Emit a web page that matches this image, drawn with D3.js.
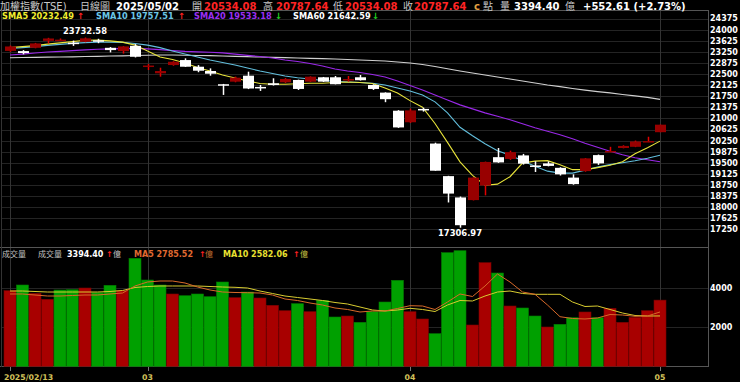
<!DOCTYPE html>
<html><head><meta charset="utf-8">
<script src="https://cdn.jsdelivr.net/npm/d3@7"></script>
<style>html,body{margin:0;padding:0;background:#000;overflow:hidden}</style>
</head><body>
<svg id="c" width="740" height="382"></svg>
<script>
const dates = ["2025/02/13","2025/02/14","2025/02/17","2025/02/18","2025/02/19","2025/02/20","2025/02/21","2025/02/24","2025/02/25","2025/02/26","2025/02/27","2025/03/03","2025/03/04","2025/03/05","2025/03/06","2025/03/07","2025/03/10","2025/03/11","2025/03/12","2025/03/13","2025/03/14","2025/03/17","2025/03/18","2025/03/19","2025/03/20","2025/03/21","2025/03/24","2025/03/25","2025/03/26","2025/03/27","2025/03/28","2025/03/31","2025/04/01","2025/04/02","2025/04/07","2025/04/08","2025/04/09","2025/04/10","2025/04/11","2025/04/14","2025/04/15","2025/04/16","2025/04/17","2025/04/18","2025/04/21","2025/04/22","2025/04/23","2025/04/24","2025/04/25","2025/04/28","2025/04/29","2025/04/30","2025/05/02"];
const open  = [23280,23274,23385,23621,23645,23560,23590,23640,23385,23274,23453,22753,22524,22803,22971,22746,22601,22154,22241,22443,22063,22187,22221,22298,22241,22389,22389,22300,22389,22130,21871,21260,20870,21320,20150,19050,18330,18240,18730,19690,19630,19750,19410,19480,19330,19000,19220,19760,19880,20000,20040,20215,20534.08];
const high  = [23460,23308,23550,23722,23700,23630,23732.58,23690,23410,23440,23510,22837,22712,22930,23029,22800,22690,22165,22410,22578,22130,22355,22360,22310,22420,22400,22433,22433,22467,22150,21880,21280,21330,21360,20180,19060,18360,19010,19540,20000,19910,19800,19550,19550,19350,19110,19660,19780,20040,20090,20250,20380,20787.64];
const low   = [23250,23165,23370,23533,23620,23450,23570,23540,23230,23190,23060,22635,22409,22780,22740,22560,22443,21793,22221,21990,21928,22110,22200,21960,22230,22230,22150,22241,22280,21961,21548,20680,20850,21230,19232.35,18160,17306.97,18230,18400,19500,19600,19440,19190,19380,19070,18760,19200,19430,19860,19990,20030,20200,20534.08];
const close = [23430,23207,23533,23700,23660,23520,23705,23610,23308,23432,23082,22786,22600,22914,22746,22611,22510,22106,22376,22010,22030,22130,22332,21995,22409,22241,22154,22330,22290,21995,21649,20695,21270,21298.22,19232.35,18459.95,17391.76,19000.02,19528.77,19513,19860,19470,19370,19395,19110,18780,19650,19480,19900,20070,20220,20235.03,20787.64];
const volume = [3877,4169,3743,3436,3913,3928,4015,3774,4154,3877,5538,4425,4169,3708,3620,3708,3569,4323,3518,3810,3502,3128,2851,3210,2800,3384,2528,2579,2256,2800,3297,4410,2800,2426,1672,5826,5928,2118,5313,4784,3092,2990,2579,2015,2154,2492,2785,2492,2974,2256,2513,2851,3394.40];
const sma5  = [23392,23426,23460,23510,23550,23594,23638,23645,23618,23577,23476,23274,23072,22988,22870,22719,22601,22467,22366,22265,22180,22153,22153,22170,22187,22187,22214,22231,22214,22180,22029,21861,21600,21380,20829,20191,19530,19076,18740,18779,19030,19490,19555,19572,19437,19269,19269,19336,19420,19538,19808,20009,20232.49];
const sma10 = [23359,23392,23426,23466,23500,23533,23560,23577,23577,23567,23533,23476,23392,23274,23173,23072,22971,22887,22803,22702,22601,22517,22433,22372,22332,22281,22254,22231,22214,22187,22130,22029,21928,21793,21558,21187,20700,20413,20144,19908,19757,19572,19387,19218,19151,19151,19252,19353,19437,19504,19572,19656,19757.51];
const sma20 = [23140,23173,23207,23241,23264,23291,23315,23335,23348,23358,23365,23348,23325,23291,23264,23247,23234,23214,23173,23130,23089,23039,22971,22921,22854,22769,22668,22601,22551,22483,22399,22265,22113,21962,21793,21625,21457,21322,21187,21070,20952,20817,20682,20565,20447,20312,20161,20026,19892,19774,19673,19605,19533.18];
const sma60 = [23049,23056,23062,23069,23072,23079,23089,23096,23106,23113,23123,23133,23140,23140,23133,23126,23120,23106,23096,23086,23072,23062,23052,23039,23029,23019,23005,22988,22971,22955,22938,22904,22870,22820,22752,22675,22601,22534,22466,22399,22332,22264,22197,22130,22073,22012,21955,21904,21861,21810,21760,21709,21642.59];
const volMa5  = [3708,3708,3656,3605,3605,3631,3656,3656,3708,3759,4118,4323,4374,4374,4272,4066,3913,3810,3785,3774,3759,3656,3451,3374,3246,3143,2990,2913,2785,2836,2836,2964,3108,3092,2913,3297,3708,3579,4118,4733,4323,3810,3692,3143,2543,2451,2426,2477,2656,2631,2564,2579,2785.52];
const volMa10 = [3861,3861,3836,3810,3810,3810,3810,3810,3836,3887,4041,4092,4118,4118,4118,4118,4092,4066,4051,4015,3861,3733,3605,3528,3451,3374,3272,3195,3041,2887,2836,2887,2974,2913,2810,3143,3374,3349,3605,3810,3861,3733,3692,3692,3692,3297,3067,3092,2913,2733,2605,2579,2582.06];
const priceTicks = [17250,17625,18000,18375,18750,19125,19500,19875,20250,20625,21000,21375,21750,22125,22500,22875,23250,23625,24000,24375];
const volTicks = [2000,4000];
const monthTickDates  = ["2025/02/13","2025/03/03","2025/04/01","2025/05/02"];
const monthTickLabels = ["2025/02/13","03","04","05"];
const highLabelDate = "2025/02/21";
const lowLabelDate = "2025/04/09";

const FONT = "'DejaVu Sans','Noto Sans CJK TC',sans-serif";
const svg = d3.select("#c").style("background","#000").style("font-family",FONT);
const n = dates.length;
const x = d3.scalePoint().domain(dates).range([10, 660]);
const y = d3.scaleLinear().domain([17250, 24375]).range([229.4, 18.5]);
const yv = d3.scaleLinear().domain([0, 4000]).range([366.3, 288.3]);
const PR = 708;

// grids
const g = svg.append("g");
g.selectAll(".hg").data(priceTicks).join("line")
  .attr("x1",2).attr("x2",PR).attr("y1",d=>Math.round(y(d))+0.5).attr("y2",d=>Math.round(y(d))+0.5)
  .attr("stroke","#242424").attr("stroke-width",1);
g.selectAll(".vg").data(volTicks).join("line")
  .attr("x1",2).attr("x2",PR).attr("y1",d=>Math.round(yv(d))+0.5).attr("y2",d=>Math.round(yv(d))+0.5)
  .attr("stroke","#242424").attr("stroke-width",1);
g.selectAll(".mg").data(monthTickDates).join("line")
  .attr("x1",d=>Math.round(x(d))+0.5).attr("x2",d=>Math.round(x(d))+0.5).attr("y1",11).attr("y2",370)
  .attr("stroke","#333").attr("stroke-width",1);

// frame
const fr = svg.append("g").attr("stroke","#555").attr("stroke-width",1);
fr.append("line").attr("x1",0).attr("x2",PR).attr("y1",10.5).attr("y2",10.5);
fr.append("line").attr("x1",0).attr("x2",PR).attr("y1",247.5).attr("y2",247.5);
fr.append("line").attr("x1",0).attr("x2",PR).attr("y1",366.5).attr("y2",366.5);
fr.append("line").attr("x1",PR+0.5).attr("x2",PR+0.5).attr("y1",10).attr("y2",367);
fr.append("line").attr("x1",1.5).attr("x2",1.5).attr("y1",10).attr("y2",367).attr("stroke","#333");

// volume bars
const idx = d3.range(n);
const volUp = i => i === 0 ? close[0] >= open[0] : close[i] >= close[i-1];
svg.append("g").selectAll("rect").data(idx).join("rect")
  .attr("x", i => x(dates[i]) - 6).attr("width", 12)
  .attr("y", i => yv(volume[i])).attr("height", i => yv(0) - yv(volume[i]))
  .attr("fill", i => volUp(i) ? "#a80000" : "#00a000")
  .attr("stroke", i => volUp(i) ? "#7a0000" : "#007a00").attr("stroke-width",0.6);

// volume MA lines
const vline = arr => d3.line().x((d,i)=>x(dates[i])).y(d=>yv(d))(arr);
svg.append("path").attr("d", vline(volMa10)).attr("fill","none").attr("stroke","#d8cc30").attr("stroke-width",1);
svg.append("path").attr("d", vline(volMa5)).attr("fill","none").attr("stroke","#d86a2a").attr("stroke-width",1);

// price MA lines
const pline = arr => d3.line().x((d,i)=>x(dates[i])).y(d=>y(d))(arr);
[[sma60,"#d0d0d0"],[sma20,"#9a28e8"],[sma10,"#62bedc"],[sma5,"#e8e43a"]].forEach(([a,c])=>{
  svg.append("path").attr("d", pline(a)).attr("fill","none").attr("stroke",c).attr("stroke-width",1.1);
});

// candles
const up = i => close[i] >= open[i];
const cg = svg.append("g");
cg.selectAll("line").data(idx).join("line")
  .attr("x1", i => Math.round(x(dates[i]))+0.5).attr("x2", i => Math.round(x(dates[i]))+0.5)
  .attr("y1", i => y(high[i])).attr("y2", i => y(low[i]))
  .attr("stroke", i => up(i) ? "#e00000" : "#ffffff").attr("stroke-width", 1.5);
cg.selectAll("rect").data(idx).join("rect")
  .attr("x", i => Math.round(x(dates[i])) - 5).attr("width", 11)
  .attr("y", i => y(Math.max(open[i], close[i])))
  .attr("height", i => Math.max(1.5, Math.abs(y(open[i]) - y(close[i]))))
  .attr("fill", i => up(i) ? "#980000" : "#ffffff");

// high / low labels
const hi = dates.indexOf(highLabelDate), lo = dates.indexOf(lowLabelDate);
svg.append("text").attr("x", x(dates[hi])).attr("y", y(high[hi]) - 3.5).attr("text-anchor","middle")
  .attr("fill","#fff").attr("font-weight","bold").attr("font-size",8.4).text(high[hi].toFixed(2));
svg.append("text").attr("x", x(dates[lo])).attr("y", y(low[lo]) + 8.5).attr("text-anchor","middle")
  .attr("fill","#fff").attr("font-weight","bold").attr("font-size",8.4).text(low[lo].toFixed(2));

// right axes labels
svg.append("g").selectAll("text").data(priceTicks).join("text")
  .attr("x", 710).attr("y", d => y(d) + 2.9).attr("fill","#fff").attr("font-weight","bold").attr("font-size",8)
  .text(d => d);
svg.append("g").selectAll("text").data(volTicks).join("text")
  .attr("x", 710).attr("y", d => yv(d) + 2.9).attr("fill","#fff").attr("font-weight","bold").attr("font-size",8)
  .text(d => d);

// bottom axis
svg.append("g").selectAll("line").data(monthTickDates).join("line")
  .attr("x1",d=>Math.round(x(d))+0.5).attr("x2",d=>Math.round(x(d))+0.5).attr("y1",367).attr("y2",371)
  .attr("stroke","#777");
svg.append("g").selectAll("text").data(monthTickDates).join("text")
  .attr("x", (d,i) => i === 0 ? 4 : x(d)).attr("y", 380)
  .attr("text-anchor", (d,i) => i === 0 ? "start" : "middle")
  .attr("fill","#d2c25a").attr("font-weight","bold").attr("font-size",7.8)
  .text((d,i) => monthTickLabels[i]);

// header
const L = n - 1;
const chg = close[L] - close[L-1];
const pct = chg / close[L-1] * 100;
const fmt = v => v.toFixed(2);
const sgn = v => (v >= 0 ? "+" : "") + fmt(v);
const head = [
  ["加權指數(TSE)", 0, "#c8c8c8", "normal", 10],
  ["日線圖", 80, "#c8c8c8", "normal", 10],
  [dates[L], 116, "#ffffff", "bold", 10],
  ["開", 192, "#c8c8c8", "normal", 10],
  [fmt(open[L]), 204, "#ff2424", "bold", 10],
  ["高", 263, "#c8c8c8", "normal", 10],
  [fmt(high[L]), 276, "#ff2424", "bold", 10],
  ["低", 333, "#c8c8c8", "normal", 10],
  [fmt(low[L]), 345, "#ff2424", "bold", 10],
  ["收", 403, "#c8c8c8", "normal", 10],
  [fmt(close[L]), 414, "#ff2424", "bold", 10],
  ["c", 474, "#e0a040", "bold", 10],
  ["點", 483, "#c8c8c8", "normal", 10],
  ["量", 500, "#c8c8c8", "normal", 10],
  [fmt(volume[L]), 514, "#ffffff", "bold", 10],
  ["億", 565, "#c8c8c8", "normal", 10],
  [sgn(chg) + " (" + sgn(pct) + "%)", 583, "#ffffff", "bold", 10]
];
svg.append("g").selectAll("text").data(head).join("text")
  .attr("x", d => d[1]).attr("y", 9.6).attr("fill", d => d[2]).attr("font-weight", d => d[3])
  .attr("font-size", d => d[4]).text(d => d[0]);

const arrow = a => a[L] >= a[L-1] ? ["↑","#ff2020"] : ["↓","#20d020"];
const leg = [
  ["SMA5 " + fmt(sma5[L]), 2, "#f0ec30", sma5, 77],
  ["SMA10 " + fmt(sma10[L]), 96, "#6cc6e6", sma10, 178],
  ["SMA20 " + fmt(sma20[L]), 194, "#9a30f0", sma20, 275],
  ["SMA60 " + fmt(sma60[L]), 293, "#ffffff", sma60, 372]
];
const lg = svg.append("g");
leg.forEach(d => {
  lg.append("text").attr("x", d[1]).attr("y", 19).attr("fill", d[2]).attr("font-weight","bold").attr("font-size",8.2).text(d[0]);
  const ar = arrow(d[3]);
  lg.append("text").attr("x", d[4]).attr("y", 19).attr("fill", ar[1]).attr("font-weight","bold").attr("font-size",8.5).text(ar[0]);
});

// volume legend
const vl = svg.append("g").attr("font-size",8);
const vArr = arrow(volume), m5Arr = arrow(volMa5), m10Arr = arrow(volMa10);
const vitems = [
  ["成交量", 2, "#c0c0c0", "normal"],
  ["成交量", 38, "#c0c0c0", "normal"],
  [fmt(volume[L]), 67, "#ffffff", "bold"],
  [vArr[0], 106, vArr[1], "bold"],
  ["億", 113, "#c0c0c0", "normal"],
  ["MA5 " + fmt(volMa5[L]), 134, "#e06a30", "bold"],
  [m5Arr[0], 199, m5Arr[1], "bold"],
  ["億", 205, "#c07030", "normal"],
  ["MA10 " + fmt(volMa10[L]), 223, "#e8e030", "bold"],
  [m10Arr[0], 293, m10Arr[1], "bold"],
  ["億", 300, "#c8c040", "normal"]
];
vl.selectAll("text").data(vitems).join("text")
  .attr("x", d => d[1]).attr("y", 257).attr("fill", d => d[2]).attr("font-weight", d => d[3]).text(d => d[0]);
</script>
</body></html>
